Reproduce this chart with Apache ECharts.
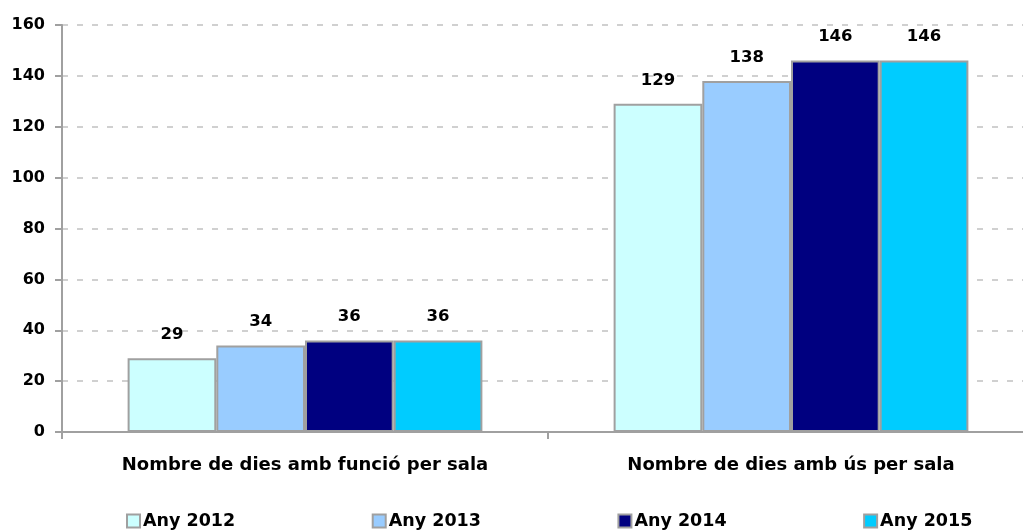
<!DOCTYPE html>
<html>
<head>
<meta charset="utf-8">
<script src="https://cdn.jsdelivr.net/npm/echarts@6/dist/echarts.min.js"></script>
<style>
html,body{margin:0;padding:0;background:#fff;overflow:hidden;}
#chart{width:1040px;height:532px;}
</style>
</head>
<body>
<div id="chart"></div>
<script>
const categories = ['Nombre de dies amb funció per sala', 'Nombre de dies amb ús per sala'];
const seriesNames = ['Any 2012', 'Any 2013', 'Any 2014', 'Any 2015'];
const values2012 = [29, 129];
const values2013 = [34, 138];
const values2014 = [36, 146];
const values2015 = [36, 146];
const yTicks = [0, 20, 40, 60, 80, 100, 120, 140, 160];

const allValues = [values2012, values2013, values2014, values2015];
const colors = ['#CCFFFF', '#99CCFF', '#000080', '#00CCFF'];
const FONT = 'DejaVu Sans';

const chart = echarts.init(document.getElementById('chart'), null, {renderer: 'canvas'});
chart.setOption({
  animation: false,
  backgroundColor: '#ffffff',
  grid: {left: 62, top: 25, bottom: 100, right: 6, containLabel: false},
  legend: {
    left: 126, top: 512, padding: 0,
    itemWidth: 13, itemHeight: 13, itemGap: 136.5,
    icon: 'rect',
    textStyle: {fontFamily: FONT, fontWeight: 'bold', fontSize: 17.5, color: '#000', padding: [0,0,0,-2]},
    data: seriesNames
  },
  xAxis: {
    type: 'category',
    data: categories,
    axisLine: {lineStyle: {color: '#a0a0a0', width: 2}},
    axisTick: {show: true, length: 7, lineStyle: {color: '#a0a0a0', width: 2}},
    axisLabel: {interval: 0, fontFamily: FONT, fontWeight: 'bold', fontSize: 18, color: '#000', margin: 24}
  },
  yAxis: {
    type: 'value',
    min: yTicks[0], max: yTicks[yTicks.length - 1], interval: 20,
    axisLine: {show: true, lineStyle: {color: '#a0a0a0', width: 2}},
    axisTick: {show: true, length: 7, lineStyle: {color: '#a0a0a0', width: 2}},
    axisLabel: {fontFamily: FONT, fontWeight: 'bold', fontSize: 16, color: '#000', margin: 17},
    splitLine: {show: true, lineStyle: {color: '#d0d0d0', width: 2, type: [6, 9]}}
  },
  series: seriesNames.map((name, i) => ({
    name: name,
    type: 'bar',
    data: allValues[i],
    barGap: '0%',
    barCategoryGap: '27%',
    itemStyle: {color: colors[i], borderColor: '#a0a0a0', borderWidth: 2},
    label: {show: true, position: 'top', distance: 15, fontFamily: FONT, fontWeight: 'bold', fontSize: 16.5, color: '#000'}
  }))
});
</script>
</body>
</html>
